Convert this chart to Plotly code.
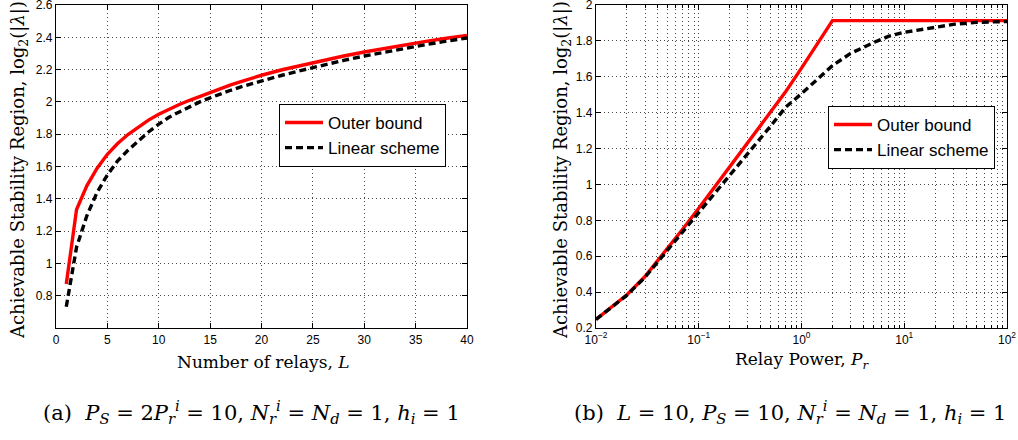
import plotly.graph_objects as go

# ---------------- data: panel (a) ----------------
relays_L = [1, 2, 3, 4, 5, 6, 7, 8, 9, 10, 11, 12, 13, 14, 15, 16, 17, 18, 19, 20,
            22, 24, 26, 28, 30, 32, 34, 36, 38, 40]
outer_a = [0.872, 1.334, 1.480, 1.590, 1.676, 1.742, 1.798, 1.845, 1.887, 1.924,
           1.955, 1.984, 2.010, 2.035, 2.060, 2.083, 2.105, 2.126, 2.146, 2.165,
           2.199, 2.229, 2.257, 2.284, 2.309, 2.332, 2.354, 2.375, 2.394, 2.412]
linear_a = [0.732, 1.100, 1.295, 1.440, 1.548, 1.635, 1.700, 1.757, 1.814, 1.862,
            1.905, 1.938, 1.970, 2.000, 2.025, 2.050, 2.072, 2.093, 2.112, 2.130,
            2.165, 2.197, 2.228, 2.257, 2.284, 2.309, 2.333, 2.355, 2.376, 2.396]

# ---------------- data: panel (b) ----------------
relay_power = [0.01, 0.02, 0.03, 0.05, 0.07, 0.1, 0.2, 0.3, 0.5, 0.7, 1, 2, 3, 5, 7,
               10, 20, 30, 50, 70, 100]
outer_b = [0.248, 0.385, 0.487, 0.644, 0.752, 0.867, 1.098, 1.234, 1.402, 1.516,
           1.648, 1.913, 1.913, 1.913, 1.913, 1.913, 1.913, 1.913, 1.913, 1.913, 1.913]
linear_b = [0.248, 0.383, 0.483, 0.635, 0.740, 0.848, 1.052, 1.172, 1.325, 1.430,
            1.506, 1.662, 1.730, 1.790, 1.825, 1.848, 1.878, 1.892, 1.903, 1.906, 1.908]

xticks_a = [0, 5, 10, 15, 20, 25, 30, 35, 40]
yticks_a = [0.8, 1.0, 1.2, 1.4, 1.6, 1.8, 2.0, 2.2, 2.4, 2.6]
yticktext_a = ["0.8", "1", "1.2", "1.4", "1.6", "1.8", "2", "2.2", "2.4", "2.6"]
xticks_b = [0.01, 0.1, 1, 10, 100]
xticktext_b = ["10<sup>\u22122</sup>", "10<sup>\u22121</sup>", "10<sup>0</sup>",
               "10<sup>1</sup>", "10<sup>2</sup>"]
xminor_b = [m * d for d in (0.01, 0.1, 1, 10) for m in range(2, 10)]
yticks_b = [0.2, 0.4, 0.6, 0.8, 1.0, 1.2, 1.4, 1.6, 1.8, 2.0]
yticktext_b = ["0.2", "0.4", "0.6", "0.8", "1", "1.2", "1.4", "1.6", "1.8", "2"]

W, H = 1018, 440
RED = "rgb(255,0,0)"
GRID = "rgb(70,70,70)"
DOT = "1px,3px"
SANS = "Liberation Sans, Arial, sans-serif"
SERIF = "DejaVu Serif, serif"

fig = go.Figure()
fig.add_trace(go.Scatter(x=relays_L, y=outer_a, mode="lines", name="Outer bound",
                         line=dict(color=RED, width=3.4), xaxis="x", yaxis="y",
                         legend="legend"))
fig.add_trace(go.Scatter(x=relays_L, y=linear_a, mode="lines", name="Linear scheme",
                         line=dict(color="black", width=3.4, dash="7px,4px"),
                         xaxis="x", yaxis="y", legend="legend"))
fig.add_trace(go.Scatter(x=relay_power, y=outer_b, mode="lines", name="Outer bound",
                         line=dict(color=RED, width=3.4), xaxis="x2", yaxis="y2",
                         legend="legend2"))
fig.add_trace(go.Scatter(x=relay_power, y=linear_b, mode="lines", name="Linear scheme",
                         line=dict(color="black", width=3.4, dash="7px,4px"),
                         xaxis="x2", yaxis="y2", legend="legend2"))

axis_common = dict(showline=True, linecolor="black", linewidth=1.2, mirror="ticks",
                   ticks="inside", ticklen=5, tickcolor="black", showgrid=True,
                   gridcolor=GRID, griddash=DOT, gridwidth=1, zeroline=False,
                   ticklabeloverflow="allow", automargin=False,
                   tickfont=dict(family=SANS, size=12, color="black"))

y0 = (H - 328) / H
y1 = (H - 5) / H

fig.update_layout(
    width=W, height=H, margin=dict(l=0, r=0, t=0, b=0, pad=0, autoexpand=False),
    paper_bgcolor="white", plot_bgcolor="white",
    xaxis=dict(domain=[56 / W, 467 / W], range=[0, 40], tickvals=xticks_a,
               anchor="y", **axis_common),
    yaxis=dict(domain=[y0, y1], range=[0.6, 2.6], tickvals=yticks_a,
               ticktext=yticktext_a, anchor="x", **axis_common),
    xaxis2=dict(domain=[596 / W, 1007 / W], type="log", range=[-2, 2],
                tickvals=xticks_b, ticktext=xticktext_b, anchor="y2",
                minor=dict(tickvals=xminor_b, ticks="inside", ticklen=3,
                           tickcolor="black", showgrid=True, gridcolor=GRID,
                           griddash=DOT, gridwidth=1),
                **axis_common),
    yaxis2=dict(domain=[y0, y1], range=[0.2, 2.0], tickvals=yticks_b,
                ticktext=yticktext_b, anchor="x2", **axis_common),
    legend=dict(x=279 / W, y=1 - 104 / H, xanchor="left", yanchor="top",
                bgcolor="white", bordercolor="black", borderwidth=1,
                font=dict(family=SANS, size=17, color="black"),
                tracegroupgap=0, itemwidth=38),
    legend2=dict(x=828 / W, y=1 - 106 / H, xanchor="left", yanchor="top",
                 bgcolor="white", bordercolor="black", borderwidth=1,
                 font=dict(family=SANS, size=17, color="black"),
                 tracegroupgap=0, itemwidth=38),
    showlegend=True,
)

ylab = "Achievable Stability Region, log<sub>2</sub>(|<i>\u03bb</i>|)"
annots = [
    dict(text="Number of relays, <i>L</i>", x=263 / W, y=1 - 362 / H, size=17),
    dict(text="Relay Power, <i>P<sub>r</sub></i>", x=802 / W, y=1 - 360 / H, size=17),
    dict(text=ylab, x=19 / W, y=1 - 170 / H, textangle=-90, size=18),
    dict(text=ylab, x=562 / W, y=1 - 170 / H, textangle=-90, size=18),
]
for a in annots:
    size = a.pop("size")
    fig.add_annotation(xref="paper", yref="paper", xanchor="center", yanchor="middle",
                       showarrow=False, font=dict(family=SERIF, size=size, color="black"),
                       **a)

cap_a = ("(a)  <i>P<sub>S</sub></i> = 2<i>P<sub>r</sub><sup>i</sup></i> = 10, "
         "<i>N<sub>r</sub><sup>i</sup></i> = <i>N<sub>d</sub></i> = 1, <i>h<sub>i</sub></i> = 1")
cap_b = ("(b)  <i>L</i> = 10, <i>P<sub>S</sub></i> = 10, "
         "<i>N<sub>r</sub><sup>i</sup></i> = <i>N<sub>d</sub></i> = 1, <i>h<sub>i</sub></i> = 1")
fig.add_annotation(text=cap_a, x=251 / W, y=1 - 412 / H, xref="paper", yref="paper",
                   xanchor="center", yanchor="middle", showarrow=False,
                   font=dict(family=SERIF, size=21, color="black"))
fig.add_annotation(text=cap_b, x=790 / W, y=1 - 412 / H, xref="paper", yref="paper",
                   xanchor="center", yanchor="middle", showarrow=False,
                   font=dict(family=SERIF, size=21, color="black"))

fig.write_html("out.html", config={"displayModeBar": False},
               post_script="document.body.style.margin='0px';"
                           "document.body.style.overflow='hidden';")
